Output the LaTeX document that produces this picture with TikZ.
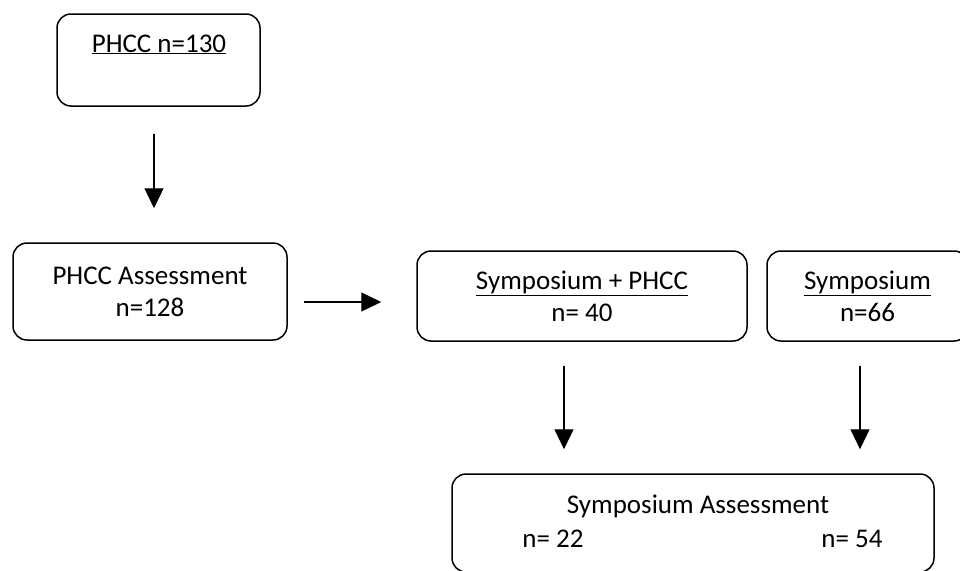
\documentclass[tikz,border=0pt]{standalone}
\usepackage{fontspec}
\setmainfont{Carlito}
\usetikzlibrary{arrows.meta}
\begin{document}
\begin{tikzpicture}[x=1pt,y=-1pt,
  box/.style={draw, line width=1.5pt, rounded corners=14pt, inner sep=0pt, align=center, font=\fontsize{27}{32}\selectfont},
  lbl/.style={inner sep=0pt, anchor=base, font=\fontsize{27}{32}\selectfont},
  arr/.style={line width=1.2pt, -{Triangle[width=19pt,length=20pt]}}]
\useasboundingbox (0,0) rectangle (960,570);
\node[box, minimum width=203pt, minimum height=92pt] (b1) at (158.5,60) {};
\node[lbl] (t1) at (159,52) {\underline{PHCC n=130}};
\node[box, minimum width=274pt, minimum height=97pt] (b2) at (150,291.5) {PHCC Assessment\\n=128};
\node[box, minimum width=330pt, minimum height=90pt] (b3) at (582,296) {\underline{Symposium + PHCC}\\n= 40};
\node[box, minimum width=201pt, minimum height=90pt] (b4) at (867.5,296) {\underline{Symposium}\\n=66};
\node[box, minimum width=482pt, minimum height=98pt] (b5) at (693,523) {};
\node[lbl] (t5) at (698,513) {Symposium Assessment};
\node[lbl] (t5a) at (553,547) {n= 22};
\node[lbl] (t5b) at (852,547) {n= 54};
\coordinate (x1) at (154,0);
\coordinate (y2) at (0,302);
\coordinate (x3) at (564,0);
\coordinate (x4) at (860,0);
\draw[arr, shorten <=27pt, shorten >=34pt] (b1.south -| x1) -- (b2.north -| x1);
\draw[arr, shorten <=16pt, shorten >=35pt] (b2.east |- y2) -- (b3.west |- y2);
\draw[arr, shorten <=24pt, shorten >=24pt] (b3.south -| x3) -- (b5.north -| x3);
\draw[arr, shorten <=24pt, shorten >=24pt] (b4.south -| x4) -- (b5.north -| x4);
\end{tikzpicture}
\end{document}
